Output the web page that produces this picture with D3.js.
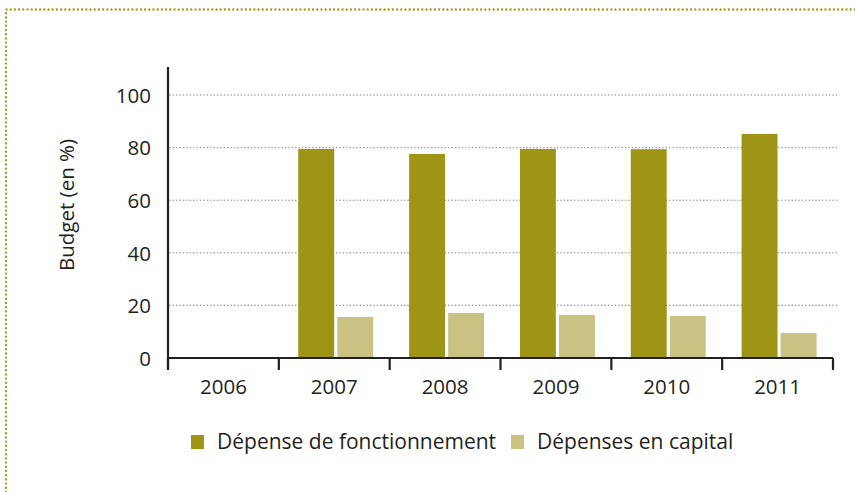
<!DOCTYPE html>
<html>
<head>
<meta charset="utf-8">
<script src="https://cdn.jsdelivr.net/npm/d3@7"></script>
<style>
  body { margin: 0; background: #fff; }
  svg { display: block; font-family: "Open Sans", Lato, sans-serif; }
</style>
</head>
<body>
<svg width="855" height="492"></svg>
<script>
// ---------- data ----------
const years = ['2006', '2007', '2008', '2009', '2010', '2011'];
const fonctionnement = [null, 79.5, 77.6, 79.5, 79.4, 85.2];
const capital = [null, 15.6, 17.1, 16.4, 16.0, 9.5];
const yTicks = [0, 20, 40, 60, 80, 100];
const seriesNames = ['Dépense de fonctionnement', 'Dépenses en capital'];
const colors = ['#9e9415', '#c9c283'];

// ---------- setup ----------
const svg = d3.select('svg');
const ink = '#231f20';

// dotted frame
svg.append('path')
  .attr('d', 'M6,492 L6,9.5 L855,9.5')
  .attr('fill', 'none')
  .attr('stroke', '#a39c1c')
  .attr('stroke-width', 2.4)
  .attr('stroke-dasharray', '0 4.2')
  .attr('stroke-linecap', 'round');

const x = d3.scaleBand()
  .domain(years)
  .range([168, 833]);

const y = d3.scaleLinear()
  .domain([0, 100])
  .range([358, 95]);

// two bars + small gap inside each year
const inner = d3.scaleBand()
  .domain([0, 1])
  .range([0, 75])
  .paddingInner(0.08);

// gridlines
svg.append('g')
  .selectAll('line')
  .data(yTicks.filter((d) => d > 0))
  .join('line')
  .attr('x1', 170)
  .attr('x2', 838)
  .attr('y1', (d) => y(d))
  .attr('y2', (d) => y(d))
  .attr('stroke', '#9a9a9a')
  .attr('stroke-width', 1.6)
  .attr('stroke-dasharray', '0 3.4')
  .attr('stroke-linecap', 'round');

// bars
const groups = svg.append('g')
  .selectAll('g')
  .data(years)
  .join('g')
  .attr('transform', (d) => `translate(${x(d) + x.bandwidth() / 2 - 36},0)`);

groups.each(function (yr, i) {
  const vals = [fonctionnement[i], capital[i]];
  d3.select(this)
    .selectAll('rect')
    .data(vals.map((v, k) => ({ v, k })).filter((d) => d.v != null))
    .join('rect')
    .attr('x', (d) => inner(d.k))
    .attr('width', inner.bandwidth())
    .attr('y', (d) => y(d.v))
    .attr('height', (d) => y(0) - y(d.v))
    .attr('fill', (d) => colors[d.k]);
});

// y axis
const yAxis = svg.append('g')
  .attr('transform', 'translate(168,0)')
  .call(d3.axisLeft(y).tickValues(yTicks).tickSize(0).tickPadding(17))
  .attr('font-family', null)
  .attr('font-size', 20.5);
yAxis.select('.domain').remove();
yAxis.selectAll('text')
  .attr('fill', ink)
  .attr('dy', '0.36em');
svg.append('line')
  .attr('x1', 168).attr('x2', 168)
  .attr('y1', 67).attr('y2', 369)
  .attr('stroke', ink)
  .attr('stroke-width', 2.2);

// x axis
const xAxis = svg.append('g')
  .attr('transform', 'translate(0,358)')
  .call(d3.axisBottom(x).tickSize(0).tickPadding(21))
  .attr('font-family', null)
  .attr('font-size', 20.5);
xAxis.select('.domain')
  .attr('d', 'M168,0H833')
  .attr('stroke', ink)
  .attr('stroke-width', 2.2);
xAxis.selectAll('text')
  .attr('fill', ink);
svg.append('g')
  .selectAll('line')
  .data(years.map((d) => x(d)).concat([833]))
  .join('line')
  .attr('x1', (d) => d).attr('x2', (d) => d)
  .attr('y1', 358).attr('y2', 370)
  .attr('stroke', ink)
  .attr('stroke-width', 2.2);

// y label
svg.append('text')
  .attr('transform', 'translate(74,205) rotate(-90)')
  .attr('text-anchor', 'middle')
  .attr('font-size', 20.5)
  .attr('fill', ink)
  .text('Budget (en %)');

// legend
const legendX = [191, 511];
const legend = svg.append('g')
  .selectAll('g')
  .data(seriesNames)
  .join('g')
  .attr('transform', (d, i) => `translate(${legendX[i]},435)`);
legend.append('rect')
  .attr('width', 13)
  .attr('height', 14)
  .attr('fill', (d, i) => colors[i]);
legend.append('text')
  .attr('x', 26)
  .attr('y', 14)
  .attr('font-size', 21)
  .attr('fill', ink)
  .text((d) => d);
</script>
</body>
</html>
